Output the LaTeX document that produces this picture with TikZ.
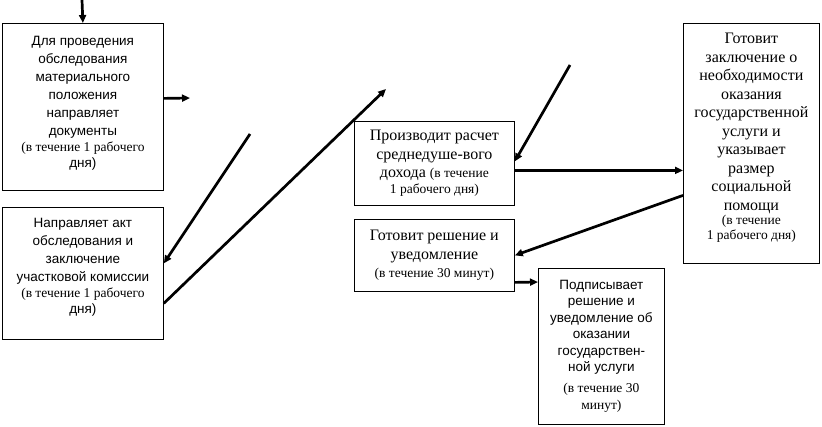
\documentclass[tikz,border=0pt]{standalone}
\usepackage{fontspec}
\setmainfont{Liberation Serif}
\setsansfont{Liberation Sans}
\usetikzlibrary{arrows.meta}
\newcommand{\srok}[1]{{\rmfamily\fontsize{13.5}{15}\selectfont #1}}
\begin{document}
\begin{tikzpicture}[x=1pt,y=-1pt,
  box/.style={draw, line width=0.8pt, anchor=north west, align=center, inner sep=2pt},
  sans/.style={font=\sffamily\fontsize{13.5}{18}\selectfont},
  serif/.style={font=\rmfamily\fontsize{16}{18.5}\selectfont},
  arr/.style={line width=2.7pt, -{Triangle[length=8pt,width=7pt]}}]
\useasboundingbox (0,0) rectangle (822,427);
% blocks
\node[box,sans,minimum width=161,minimum height=167] (napr) at (2,23)
  {Для проведения\\ обследования\\ материального\\ положения\\ направляет\\ документы\\[-2pt]
   \srok{(в течение 1 рабочего}\\[-2pt] дня)\\[-8pt]};
\node[box,sans,minimum width=161,minimum height=132] (akt) at (2,207)
  {Направляет акт\\ обследования и\\ заключение\\ участковой комиссии\\[-2pt]
   \srok{(в течение 1 рабочего}\\[-2pt] дня)\\[-2pt]};
\node[box,serif,minimum width=160,minimum height=84] (rasch) at (354,121)
  {Производит расчет\\ среднедуше-вого\\ дохода \srok{(в течение}\\[-3pt] \srok{1 рабочего дня)}};
\node[box,serif,minimum width=160,minimum height=72] (resh) at (354,219)
  {Готовит решение и\\ уведомление\\ \srok{(в течение 30 минут)}};
\node[box,serif,minimum width=136,minimum height=240] (zakl) at (683,23)
  {Готовит\\ заключение о\\ необходимости\\ оказания\\ государственной\\ услуги и\\ указывает\\ размер\\ социальной\\ помощи\\[-4pt]
   \srok{(в течение}\\[-4pt] \srok{1 рабочего дня)}\\[-4pt]};
\node[box,sans,font=\sffamily\fontsize{13.5}{16.5}\selectfont,minimum width=126,minimum height=156] (podp) at (538,268)
  {Подписывает\\ решение и\\ уведомление об\\ оказании\\ государствен-\\ной услуги\\[4.5pt]
   \srok{(в течение 30}\\[0.5pt] \srok{минут)}};
% free ends
\coordinate (vhod) at (82,0);
\coordinate (vyhod) at (190,98);
\coordinate (ot1) at (250,134);
\coordinate (k1) at (386,89);
\coordinate (ot2) at (570,65);
% arrows
\draw[arr] (vhod) -- (napr.north);
\draw[arr] ([yshift=8.5pt]napr.east) -- (vyhod);
\draw[arr] (ot1) -- ([yshift=10pt]akt.east);
\draw[arr] ([yshift=-30pt]akt.east) -- (k1);
\draw[arr] (ot2) -- ([yshift=2pt]rasch.east);
\draw[arr] ([yshift=-7pt]rasch.east) -- ([yshift=-27pt]zakl.west);
\draw[arr] ([yshift=-52pt]zakl.west) -- (resh.east);
\draw[arr] ([yshift=-27pt]resh.east) -- ([yshift=-14pt]podp.north west);
\end{tikzpicture}
\end{document}
